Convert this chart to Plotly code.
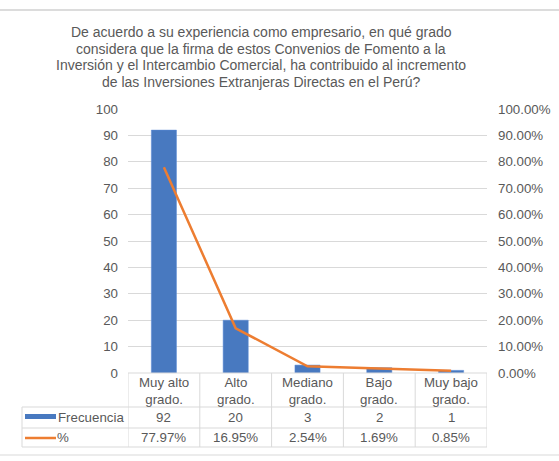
import plotly.graph_objects as go

categories = ["Muy alto<br>grado.", "Alto<br>grado.", "Mediano<br>grado.", "Bajo<br>grado.", "Muy bajo<br>grado."]
frecuencia = [92, 20, 3, 2, 1]
porcentaje = [0.7797, 0.1695, 0.0254, 0.0169, 0.0085]
freq_labels = ["92", "20", "3", "2", "1"]
pct_labels = ["77.97%", "16.95%", "2.54%", "1.69%", "0.85%"]
left_ticks = list(range(0, 101, 10))
right_ticks = [i / 10 for i in range(11)]
right_tick_labels = [f"{i*10}.00%" for i in range(11)]

title_lines = ["De acuerdo a su experiencia como empresario, en qué grado",
               "considera que la firma de estos Convenios de Fomento a la",
               "Inversión y el Intercambio Comercial, ha contribuido al incremento",
               "de las Inversiones Extranjeras Directas en el Perú?"]

W, H = 559, 461
L, R, T, B = 128, 72, 109, 88
PW = W - L - R
PH = H - T - B

def px(xp):
    return (xp - L) / PW

def py(yp):
    return (H - B - yp) / PH

BLUE = "#4879C0"
ORANGE = "#ED7D31"
TXT = "#595959"
GRID = "#D9D9D9"
FONT = "Liberation Sans, Arial, sans-serif"
TS = 13.3

xs = list(range(len(categories)))

fig = go.Figure()
fig.add_trace(go.Bar(x=xs, y=frecuencia, width=0.35, marker=dict(color=BLUE, line=dict(color="#5B8BD6", width=0.5)),
                     name="Frecuencia", yaxis="y"))
fig.add_trace(go.Scatter(x=xs, y=porcentaje, mode="lines", line=dict(color=ORANGE, width=2.5),
                         name="%", yaxis="y2"))

shapes = []
annotations = []

# title (one annotation per line for tight spacing)
for k, line in enumerate(title_lines):
    annotations.append(dict(text=line, xref="paper", yref="paper", x=px(261), y=py(32 + 16.6 * k),
                            xanchor="center", yanchor="middle", showarrow=False,
                            font=dict(size=14, color=TXT, family=FONT)))

# table rows
row_hdr = py(391)
row_f = py(417)
row_p = py(437.5)
lines_y = [py(407), py(428), py(447)]
x_left = px(22)
x_right = px(487)

for i, cat in enumerate(categories):
    annotations.append(dict(text=cat, xref="x", yref="paper", x=i, y=row_hdr, showarrow=False,
                            xanchor="center", yanchor="middle", font=dict(size=TS, color=TXT, family=FONT)))
    annotations.append(dict(text=freq_labels[i], xref="x", yref="paper", x=i, y=row_f, showarrow=False,
                            xanchor="center", yanchor="middle", font=dict(size=TS, color=TXT, family=FONT)))
    annotations.append(dict(text=pct_labels[i], xref="x", yref="paper", x=i, y=row_p, showarrow=False,
                            xanchor="center", yanchor="middle", font=dict(size=TS, color=TXT, family=FONT)))

annotations.append(dict(text="Frecuencia", xref="paper", yref="paper", x=px(56), y=row_f, showarrow=False,
                        xanchor="left", yanchor="middle", font=dict(size=TS, color=TXT, family=FONT)))
annotations.append(dict(text="%", xref="paper", yref="paper", x=px(55), y=row_p, showarrow=False,
                        xanchor="left", yanchor="middle", font=dict(size=TS, color=TXT, family=FONT)))

# legend keys
shapes.append(dict(type="rect", xref="paper", yref="paper", x0=px(25), x1=px(56), y0=py(419), y1=py(414),
                   fillcolor=BLUE, line=dict(width=0)))
shapes.append(dict(type="line", xref="paper", yref="paper", x0=px(25), x1=px(56), y0=py(438), y1=py(438),
                   line=dict(color=ORANGE, width=2.5)))

# table horizontal lines
for ly in lines_y:
    shapes.append(dict(type="line", xref="paper", yref="paper", x0=x_left, x1=x_right, y0=ly, y1=ly,
                       line=dict(color=GRID, width=1)))
# table vertical lines
shapes.append(dict(type="line", xref="paper", yref="paper", x0=x_left, x1=x_left, y0=lines_y[0], y1=lines_y[2],
                   line=dict(color=GRID, width=1)))
for b in [-0.5, 0.5, 1.5, 2.5, 3.5, 4.5]:
    shapes.append(dict(type="line", xref="x", yref="paper", x0=b, x1=b, y0=0, y1=lines_y[2],
                       line=dict(color=GRID, width=1)))
# axis line
shapes.append(dict(type="line", xref="paper", yref="paper", x0=0, x1=1, y0=0, y1=0,
                   line=dict(color=GRID, width=1)))
# chart border lines (top/bottom)
shapes.append(dict(type="line", xref="paper", yref="paper", x0=px(0), x1=px(W), y0=py(10), y1=py(10),
                   line=dict(color="#D0D0D0", width=1.5)))
shapes.append(dict(type="line", xref="paper", yref="paper", x0=px(0), x1=px(W), y0=py(455), y1=py(455),
                   line=dict(color="#D9D9D9", width=1)))

fig.update_layout(
    width=W, height=H,
    margin=dict(l=L, r=R, t=T, b=B, autoexpand=False),
    paper_bgcolor="white", plot_bgcolor="white",
    showlegend=False,
    font=dict(family=FONT, color=TXT, size=13),
    xaxis=dict(range=[-0.5, 4.5], showticklabels=False, showgrid=False, zeroline=False,
               showline=False, ticks=""),
    yaxis=dict(range=[0, 100], tickvals=left_ticks, showgrid=True, gridcolor=GRID, gridwidth=1,
               zeroline=False, showline=False, ticks="", ticklabelstandoff=9,
               tickfont=dict(size=13.3, color=TXT, family=FONT)),
    yaxis2=dict(range=[0, 1], overlaying="y", side="right", tickvals=right_ticks, ticktext=right_tick_labels,
                showgrid=False, zeroline=False, showline=False, ticks="", ticklabelstandoff=10,
                tickfont=dict(size=13.3, color=TXT, family=FONT)),
    shapes=shapes,
    annotations=annotations,
    bargap=0.65,
)

fig.write_html("out.html")
